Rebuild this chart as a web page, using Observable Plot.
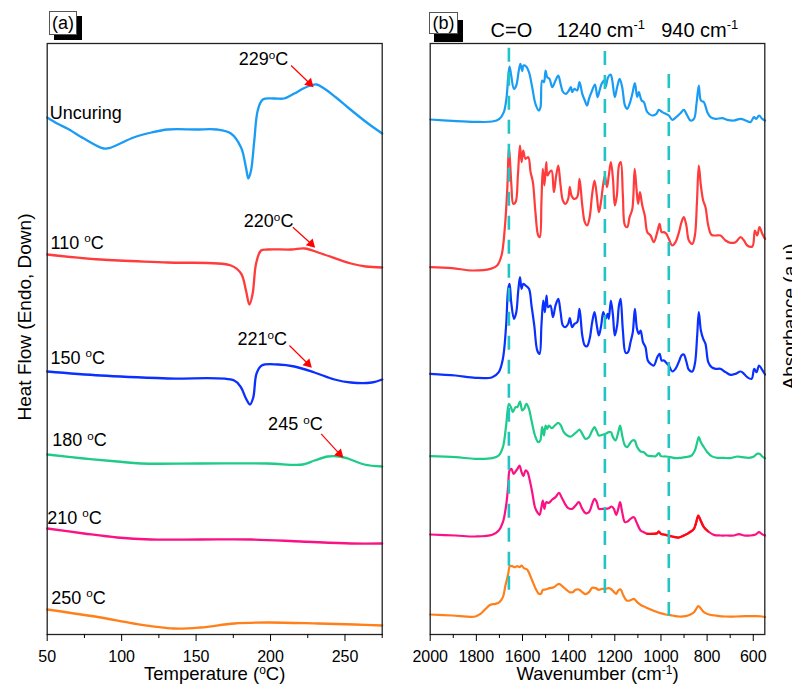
<!DOCTYPE html>
<html><head><meta charset="utf-8">
<script src="https://cdn.jsdelivr.net/npm/d3@7"></script>
<script src="https://cdn.jsdelivr.net/npm/@observablehq/plot@0.6"></script>
<style>
body{margin:0;background:#fff;}
#wrap{position:relative;width:792px;height:685px;overflow:hidden;font-family:"Liberation Sans",Arial,sans-serif;}
.panel{position:absolute;top:0;}
.tag{position:absolute;font-size:18px;border:1px solid #555;background:#fff;text-align:center;color:#000;}
</style></head>
<body><div id="wrap">
<div id="pa" class="panel" style="left:0"></div>
<div id="pb" class="panel" style="left:400px"></div>
<div class="tag" style="left:49px;top:11px;width:26px;height:22px;line-height:22px;box-shadow:5px 5px 0 #000;">(a)</div>
<div class="tag" style="left:429px;top:12px;width:27px;height:20px;line-height:20px;box-shadow:5px 8px 0 #000;">(b)</div>
</div>
<script>
// ---------- Panel (a): DSC, [temperature °C, heat flow a.u. (offset)] ----------
const tempTicks = [50, 100, 150, 200, 250];
const tempMinor = [75, 125, 175, 225, 275];
const dscNames = ["Uncuring", "110 {o}C", "150 {o}C", "180 {o}C", "210 {o}C", "250 {o}C"];
const seriesColors = ["#1a9cf5", "#ff3b3b", "#0a30ff", "#1ecb88", "#fa1285", "#ff7f1a"];
const dscUncuring = [[50,51.7],[56.7,51.1],[63.5,50.6],[74.7,49.6],[88,48.6],[93,48.7],[108,49.7],[120,50.2],[131,50.5],[150,50.5],[164,50.5],[173.4,50.1],[180.2,48.7],[183.5,46.7],[185.1,45.6],[186.9,46.4],[189.1,49.4],[191.4,52.4],[194.8,53.5],[202.6,53.6],[209,53.6],[216,54.1],[222,54.6],[227,54.9],[231,55.0],[236,54.6],[244,53.7],[252,52.7],[265.5,51.1],[275,50.1]];
const dsc110 = [[50,38.0],[86,37.5],[131,37.2],[173.4,36.9],[180.2,36.1],[183.5,34.4],[185.8,33.0],[188,34.1],[190.3,37.1],[193.6,38.4],[198,38.5],[214,38.5],[223,38.6],[234,38.1],[254,37.1],[264,36.8],[275,36.7]];
const dsc150 = [[50,26.3],[86,25.9],[131,25.6],[175.6,25.4],[180.2,24.7],[183.5,23.6],[186.2,23.0],[188.4,23.7],[190.6,26.1],[194.1,26.9],[205,27.0],[216,26.8],[229.5,26.2],[243,25.5],[254,25.2],[268,25.2],[275,25.5]];
const dsc180 = [[50,18.0],[74.7,17.6],[97,17.3],[113,17.1],[153,17.1],[198,17.1],[221.7,17.0],[229.5,17.4],[238.5,17.8],[246.3,17.8],[252,17.6],[263,17.0],[275,16.8]];
const dsc210 = [[50,10.6],[74.7,10.1],[97,9.7],[119.6,9.5],[153,9.5],[187,9.5],[220.6,9.3],[254,9.1],[275,9.1]];
const dsc250 = [[50,2.5],[86,1.7],[108,1.1],[135,0.6],[153,0.7],[175.6,1.1],[198,1.2],[232,1.1],[256.5,1.0],[275,0.9]];
const dscLabelT = [51.75, 52.2, 52.2, 53.4, 50.0, 52.7];
const dscLabelV = [52.15, 39.14, 27.64, 19.38, 11.64, 3.64];
const peakLabels = ["229{o}C", "220{o}C", "221{o}C", "245 {o}C"];
const peakTextT = [195.3, 198.7, 194.4, 216.7];
const peakTextV = [57.48, 41.31, 29.48, 20.98];
const arrowFromT = [213.8, 215.0, 212.7, 234.0];
const arrowFromV = [56.9, 40.73, 28.9, 20.07];
const arrowToT = [226.2, 227.3, 225.1, 246.3];
const arrowToV = [55.13, 39.07, 27.07, 18.07];

// ---------- Panel (b): FTIR, [wavenumber cm-1, absorbance a.u. (offset)] ----------
const waveTicks = [2000, 1800, 1600, 1400, 1200, 1000, 800, 600];
const waveMinor = [1900, 1700, 1500, 1300, 1100, 900, 700];
const bandLabels = ["C=O", "1240 cm{-1}", "940 cm{-1}"];
const bandLabelW = [1648, 1260, 832];
const bandLineW = [1659, 1243, 966];
const bandLineTop = [1759, 1749, 1680];
const bandLineBottom = [122, 112, 42];
const ftirUncuring = [[2000,1545],[1905,1541],[1804,1538],[1731,1539],[1700,1547],[1681,1567],[1669,1612],[1662,1672],[1656,1704],[1649,1677],[1637,1637],[1627,1647],[1616,1692],[1609,1712],[1601,1690],[1596,1707],[1584,1704],[1572,1687],[1558,1642],[1544,1592],[1529,1572],[1522,1582],[1515,1662],[1507,1657],[1500,1692],[1493,1672],[1483,1667],[1471,1642],[1457,1662],[1445,1677],[1435,1652],[1424,1627],[1411,1622],[1399,1632],[1390,1642],[1385,1627],[1375,1637],[1363,1632],[1353,1657],[1341,1622],[1330,1602],[1320,1587],[1312,1607],[1301,1627],[1286,1650],[1275,1612],[1266,1632],[1257,1652],[1247,1662],[1240,1642],[1229,1672],[1218,1680],[1211,1662],[1200,1612],[1190,1642],[1179,1667],[1168,1642],[1156,1587],[1146,1577],[1136,1592],[1124,1622],[1113,1654],[1103,1612],[1096,1627],[1084,1602],[1074,1597],[1059,1567],[1038,1557],[1020,1562],[1009,1574],[994,1567],[980,1562],[966,1557],[951,1544],[934,1552],[915,1564],[901,1574],[886,1557],[872,1542],[857,1547],[846,1592],[836,1647],[827,1602],[814,1597],[799,1567],[785,1552],[763,1547],[734,1549],[713,1544],[684,1542],[655,1547],[633,1542],[612,1537],[597,1552],[587,1547],[575,1557],[561,1547],[549,1542]];
const ftir110 = [[2000,1102],[1905,1099],[1818,1092],[1739,1097],[1710,1107],[1691,1137],[1677,1217],[1666,1337],[1659,1462],[1653,1407],[1648,1347],[1640,1292],[1630,1297],[1620,1377],[1611,1467],[1604,1417],[1597,1452],[1587,1427],[1575,1432],[1565,1387],[1555,1357],[1544,1267],[1532,1197],[1525,1192],[1518,1297],[1512,1397],[1505,1347],[1497,1417],[1492,1377],[1483,1387],[1474,1392],[1464,1327],[1454,1377],[1445,1407],[1435,1347],[1425,1302],[1414,1292],[1402,1307],[1395,1342],[1388,1317],[1377,1307],[1363,1312],[1353,1367],[1341,1287],[1330,1237],[1320,1227],[1309,1252],[1298,1322],[1288,1362],[1278,1317],[1269,1267],[1260,1297],[1252,1342],[1243,1377],[1234,1342],[1226,1377],[1217,1417],[1208,1367],[1200,1287],[1191,1317],[1182,1407],[1174,1417],[1165,1317],[1156,1227],[1146,1222],[1136,1252],[1124,1277],[1114,1397],[1106,1337],[1099,1292],[1091,1327],[1081,1287],[1070,1257],[1059,1207],[1045,1197],[1031,1177],[1016,1207],[1006,1232],[997,1207],[987,1207],[977,1202],[966,1187],[951,1167],[937,1177],[922,1207],[911,1237],[901,1252],[890,1227],[879,1182],[864,1172],[853,1197],[844,1297],[836,1407],[827,1347],[817,1302],[807,1282],[795,1227],[781,1199],[763,1197],[742,1197],[720,1182],[698,1175],[677,1177],[655,1192],[640,1182],[626,1167],[604,1164],[593,1212],[583,1197],[573,1222],[561,1202],[549,1187]];
const ftir150 = [[2000,782],[1890,777],[1804,770],[1731,772],[1703,787],[1685,827],[1671,927],[1662,1037],[1656,1052],[1649,997],[1637,947],[1627,967],[1619,1027],[1611,1072],[1604,1037],[1597,1052],[1587,1047],[1572,1037],[1561,987],[1549,927],[1536,852],[1526,842],[1518,927],[1510,1002],[1503,967],[1496,1017],[1489,982],[1479,987],[1468,952],[1457,987],[1445,1007],[1435,967],[1425,927],[1414,922],[1402,932],[1395,949],[1385,922],[1375,932],[1363,937],[1353,977],[1341,897],[1330,867],[1320,865],[1309,887],[1298,937],[1288,967],[1278,927],[1269,897],[1259,927],[1250,967],[1240,947],[1231,962],[1226,947],[1217,1002],[1208,957],[1200,897],[1190,927],[1182,987],[1175,1007],[1165,912],[1153,845],[1143,847],[1132,877],[1122,907],[1113,977],[1104,917],[1096,902],[1088,912],[1078,877],[1067,862],[1057,822],[1045,812],[1031,807],[1016,832],[1006,842],[997,822],[987,822],[977,815],[966,807],[951,789],[937,797],[922,819],[911,837],[901,840],[890,819],[879,794],[864,789],[853,812],[843,897],[836,967],[827,912],[817,887],[807,872],[795,817],[781,802],[763,797],[742,797],[720,787],[698,779],[677,782],[655,789],[640,782],[626,772],[607,767],[596,797],[586,787],[575,807],[564,797],[549,780]];
const ftir180 = [[2000,535],[1890,532],[1804,527],[1731,529],[1703,537],[1685,562],[1671,627],[1659,692],[1650,682],[1642,667],[1630,682],[1622,682],[1611,699],[1601,672],[1593,677],[1583,692],[1572,677],[1561,642],[1546,597],[1532,577],[1523,582],[1515,622],[1507,597],[1500,627],[1493,617],[1486,627],[1474,619],[1460,627],[1445,635],[1435,629],[1421,607],[1406,597],[1389,594],[1375,602],[1363,609],[1353,615],[1341,602],[1327,587],[1312,592],[1298,612],[1288,622],[1278,609],[1269,597],[1255,599],[1240,602],[1226,607],[1217,607],[1208,592],[1197,582],[1185,607],[1177,627],[1168,597],[1156,567],[1146,562],[1136,572],[1124,582],[1114,582],[1103,562],[1088,549],[1074,547],[1059,537],[1038,535],[1023,535],[1009,544],[1000,535],[980,534],[958,532],[937,529],[915,530],[893,532],[867,537],[853,552],[843,577],[836,592],[827,577],[814,562],[799,547],[781,535],[756,530],[727,530],[698,529],[669,534],[648,532],[619,530],[597,534],[583,542],[573,542],[561,534],[549,529]];
const ftir210 = [[2000,300],[1890,297],[1804,294],[1731,299],[1703,312],[1685,337],[1671,387],[1662,447],[1656,492],[1648,497],[1639,482],[1630,489],[1622,497],[1613,507],[1604,487],[1596,475],[1587,492],[1578,487],[1570,467],[1558,427],[1546,382],[1536,367],[1526,359],[1518,382],[1512,402],[1505,377],[1497,397],[1486,395],[1471,405],[1457,412],[1442,425],[1431,412],[1416,392],[1402,379],[1385,377],[1370,387],[1356,397],[1341,377],[1327,364],[1312,367],[1298,392],[1288,407],[1278,397],[1269,377],[1255,377],[1240,377],[1226,379],[1214,384],[1204,377],[1194,359],[1185,377],[1177,397],[1168,367],[1156,337],[1145,339],[1132,347],[1117,352],[1106,337],[1088,312],[1074,307],[1059,302],[1038,302],[1016,304],[1009,309],[1000,302],[980,299],[951,294],[922,291],[901,297],[879,305],[857,317],[847,337],[838,357],[828,342],[814,322],[795,309],[771,299],[742,297],[713,297],[684,297],[662,301],[640,297],[612,297],[590,300],[575,307],[564,302],[549,297]];
const ftir250 = [[2000,60],[1905,57],[1804,54],[1782,62],[1760,77],[1739,89],[1717,92],[1700,97],[1685,112],[1674,147],[1662,182],[1655,205],[1645,205],[1633,202],[1623,205],[1613,202],[1604,207],[1594,199],[1580,195],[1570,182],[1558,162],[1544,139],[1529,122],[1520,122],[1512,134],[1500,135],[1483,139],[1464,142],[1442,152],[1428,145],[1414,137],[1396,127],[1382,127],[1370,134],[1356,135],[1341,127],[1327,121],[1312,127],[1298,140],[1283,139],[1269,134],[1255,137],[1240,137],[1226,139],[1214,135],[1203,127],[1194,122],[1185,132],[1175,135],[1164,119],[1149,102],[1135,102],[1117,107],[1103,97],[1084,87],[1067,82],[1045,75],[1023,69],[1002,64],[980,60],[951,57],[922,54],[893,55],[872,60],[857,67],[847,77],[838,85],[828,79],[814,67],[792,60],[763,57],[720,54],[677,54],[633,55],[590,55],[561,54],[549,52]];
const redSegment = [795, 1059]; // part of the 210 °C spectrum drawn in red

const FONT = "Liberation Sans, Arial, sans-serif";
const plain = d => String(d);

function supify(svg) {
  svg.querySelectorAll("text").forEach(t => {
    const s = t.textContent;
    if (!s.includes("{")) return;
    const parts = s.split(/(\{[^}]*\})/).filter(p => p);
    while (t.firstChild) t.removeChild(t.firstChild);
    let shifted = false;
    for (const p of parts) {
      const ts = document.createElementNS("http://www.w3.org/2000/svg", "tspan");
      if (p.startsWith("{")) {
        ts.textContent = p.slice(1, -1);
        ts.setAttribute("font-size", "65%");
        ts.setAttribute("dy", "-0.55em");
        shifted = true;
      } else {
        ts.textContent = p;
        if (shifted) { ts.setAttribute("dy", "0.3575em"); shifted = false; }
      }
      t.appendChild(ts);
    }
  });
}

// ---------- build panel (a) ----------
const dscData = [dscUncuring, dsc110, dsc150, dsc180, dsc210, dsc250];
const dscLabels = dscNames.map((n, i) => ({name: n, t: dscLabelT[i], v: dscLabelV[i]}));
const peaks = peakLabels.map((l, i) => ({label: l, t: peakTextT[i], v: peakTextV[i],
  x1: arrowFromT[i], y1: arrowFromV[i], x2: arrowToT[i], y2: arrowToV[i]}));

const plotA = Plot.plot({
  width: 400, height: 685,
  marginLeft: 46.7, marginRight: 18.3, marginTop: 43, marginBottom: 51,
  style: {fontFamily: FONT, fontSize: "16px", color: "#000", background: "transparent"},
  x: {domain: [50, 275]},
  y: {domain: [0, 59.1], axis: null},
  marks: [
    ...dscData.map((d, i) => Plot.line(d, {x: d => d[0], y: d => d[1], stroke: seriesColors[i], strokeWidth: 2.3, curve: "catmull-rom"})),
    Plot.link(peaks, {x1: "x1", y1: "y1", x2: "x2", y2: "y2", stroke: "#ff0000", strokeWidth: 1.2}),
    Plot.dot(peaks, {x: "x2", y: "y2", symbol: "triangle", r: 3.6, fill: "#ff0000", stroke: null, rotate: 135}),
    Plot.text(peaks, {x: "t", y: "v", text: "label", fontSize: 18, textAnchor: "middle", lineAnchor: "middle", fill: "#000"}),
    Plot.text(dscLabels, {x: "t", y: "v", text: "name", fontSize: 18, textAnchor: "start", lineAnchor: "middle", fill: "#000"}),
    Plot.frame({stroke: "#222", strokeWidth: 1.3}),
    Plot.axisX({ticks: tempTicks, tickSize: 7, tickPadding: 9, tickFormat: plain, label: null, fontSize: 16, stroke: "#000"}),
    Plot.axisX({ticks: tempMinor, tickSize: 4, tickFormat: () => "", label: null, stroke: "#000"}),
    Plot.text(["Temperature ({o}C)"], {frameAnchor: "bottom", textAnchor: "middle", lineAnchor: "middle", dy: 40, fontSize: 18.5, fill: "#000"}),
    Plot.text(["Heat Flow (Endo, Down)"], {frameAnchor: "left", textAnchor: "middle", lineAnchor: "middle", rotate: -90, dx: -22.5, dy: -22, fontSize: 19, fill: "#000"})
  ]
});
supify(plotA);
document.getElementById("pa").appendChild(plotA);

// ---------- build panel (b) ----------
const ftirData = [ftirUncuring, ftir110, ftir150, ftir180, ftir210, ftir250];
const bands = bandLineW.map((w, i) => ({w, top: bandLineTop[i], bottom: bandLineBottom[i], label: bandLabels[i], lw: bandLabelW[i]}));

const plotB = Plot.plot({
  width: 392, height: 685,
  marginLeft: 29.7, marginRight: 27.7, marginTop: 43, marginBottom: 51,
  style: {fontFamily: FONT, fontSize: "16px", color: "#000", background: "transparent"},
  x: {domain: [2000, 550]},
  y: {domain: [0, 1773], axis: null},
  marks: [
    ...ftirData.map((d, i) => Plot.line(d, {x: d => d[0], y: d => d[1], stroke: seriesColors[i], strokeWidth: 2.2, curve: "catmull-rom"})),
    Plot.line(ftir210.filter(d => d[0] >= redSegment[0] && d[0] <= redSegment[1]), {x: d => d[0], y: d => d[1], stroke: "#ff0a0a", strokeWidth: 2.2, curve: "catmull-rom"}),
    Plot.ruleX(bands, {x: "w", y1: "top", y2: "bottom", stroke: "#22c4c4", strokeWidth: 2.6, strokeDasharray: "14,10"}),
    Plot.text(bands, {x: "lw", frameAnchor: "top", textAnchor: "middle", lineAnchor: "middle", dy: -13.4, text: "label", fontSize: 20, fill: "#000"}),
    Plot.frame({stroke: "#222", strokeWidth: 1.3}),
    Plot.axisX({ticks: waveTicks, tickSize: 7, tickPadding: 9, tickFormat: plain, label: null, fontSize: 16, stroke: "#000"}),
    Plot.axisX({ticks: waveMinor, tickSize: 4, tickFormat: () => "", label: null, stroke: "#000"}),
    Plot.text(["Wavenumber (cm{-1})"], {frameAnchor: "bottom", textAnchor: "middle", lineAnchor: "middle", dy: 40, fontSize: 18.5, fill: "#000"}),
    Plot.text(["Absorbance (a.u)"], {frameAnchor: "right", textAnchor: "middle", lineAnchor: "middle", rotate: -90, dx: 25, dy: -22.5, fontSize: 19, fill: "#000"})
  ]
});
supify(plotB);
document.getElementById("pb").appendChild(plotB);
</script>
</body></html>
